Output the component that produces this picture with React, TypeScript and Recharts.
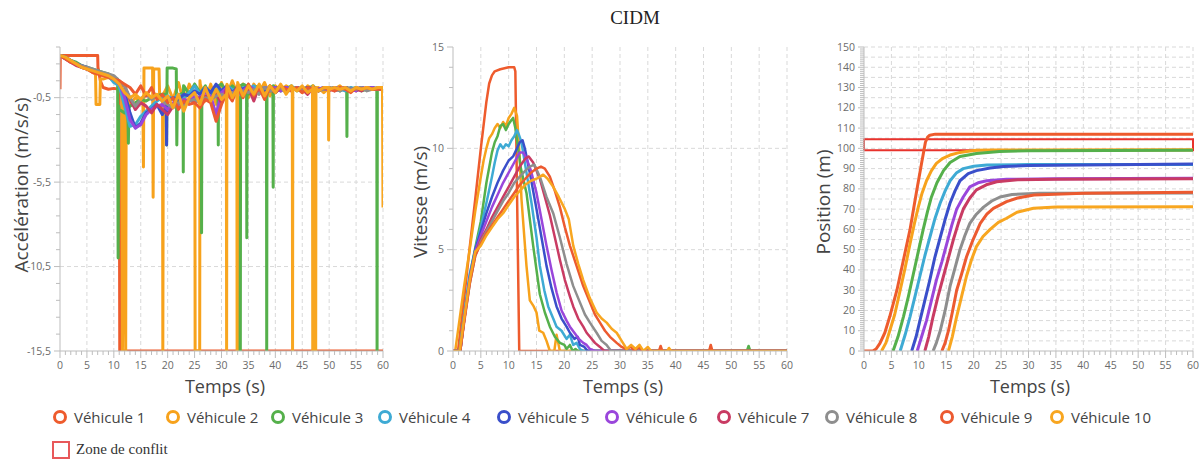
import { LineChart, Line, XAxis, YAxis, CartesianGrid, ReferenceArea } from "recharts";

type Pair = [number, number];

const vehicleNames = ["Véhicule 1", "Véhicule 2", "Véhicule 3", "Véhicule 4", "Véhicule 5", "Véhicule 6", "Véhicule 7", "Véhicule 8", "Véhicule 9", "Véhicule 10"];
const vehicleColors = ["#ee5b2d", "#f7a21c", "#55b04b", "#3eaad4", "#3a4fca", "#9a46db", "#c93b63", "#8e8e8e", "#ec5a30", "#f8a620"];

const timeTicks = Array.from({ length: 61 }, (_, i) => i);
const timeGrid = [5, 10, 15, 20, 25, 30, 35, 40, 45, 50, 55, 60];

// acceleration (m/s/s), one value per second from t=0 to t=60, plus the sharp spikes
const acc1: Pair[] = [[0, 0], [0.05, 2], [7, 2], [7.05, 1.3], [7.5, 0.5], [8, 0.1], [9, 0], [10, 0.05], [11, 0], [11.1, -15.5], [60, -15.5]];
const accBase2 = [
  2.0, 1.8, 1.6, 1.5, 1.4, 1.2, 1.0, -0.9, 0.6, 0.7,
  0.5, 0.2, -0.4, -0.9, -0.5, -0.7, 1.25, 1.25, 1.2, -0.4,
  0.2, -0.6, 0.4, -0.8, 0.3, -0.4, 0.5, -0.7, 0.3, -0.9,
  0.4, -0.4, 0.5, -0.3, 0.3, -0.5, 0.3, -0.2, 0.4, -0.4,
  0.2, -0.1, 0.2, 0.0, 0.1, -0.2, 0.2, 0.0, 0.1, -0.2,
  0.1, 0.0, 0.2, -0.1, 0.1, -0.1, 0.1, 0.0, 0.1, 0.0,
  0.1,
];
const accSpikes2: Pair[] = [[6.6, 0.9], [6.7, -0.9], [7.4, -0.9], [7.5, 0.6], [11.5, 0.2], [11.6, -15.5], [12.2, -15.5], [12.3, -0.4], [15.4, -0.6], [15.5, -4.6], [15.6, 1.25], [17.2, 1.25], [17.3, -6.4], [17.4, 1.2], [18.4, 1.2], [18.5, -0.3], [19.05, -0.4], [19.1, -15.5], [19.2, -0.3], [25.05, -0.2], [25.1, -15.5], [25.95, -15.5], [26.05, 0.3]];
const accBase3 = [
  2.0, 1.9, 1.7, 1.6, 1.4, 1.3, 1.2, 1.1, 1.0, 0.9,
  0.7, -1.2, -1.4, -1.0, -0.8, -0.6, -0.7, -0.5, -0.4, -0.3,
  1.25, 1.25, -0.4, 0.2, -0.3, 0.3, -0.2, 0.2, -0.4, 0.1,
  0.3, -0.2, 0.2, -0.1, 0.3, -0.3, 0.1, 0.2, -0.1, 0.2,
  -0.2, 0.1, 0.0, 0.2, -0.1, 0.1, 0.0, 0.2, -0.1, 0.1,
  0.0, 0.1, -0.1, 0.1, 0.0, 0.1, -0.1, 0.0, 0.1, 0.0,
  0.1,
];
const accSpikes3: Pair[] = [[10.7, 0.6], [10.8, -10], [10.9, -1.0], [12.6, -1.2], [12.7, -3.2], [12.8, -1.1], [19.7, -0.3], [19.8, -3.3], [19.9, 1.25], [21.6, 1.2], [21.7, -3.3], [21.8, -0.4], [22.85, -0.2], [22.9, -4.9], [22.95, 0.2], [26.25, -0.2], [26.3, -8.5], [26.35, -0.1], [29.35, -0.3], [29.4, -3.3], [29.45, 0.2], [33.25, -0.1], [33.3, -15.5], [33.5, -15.5], [33.55, 0.2], [34.65, 0.2], [34.7, -8.8], [34.75, -0.2], [38.35, -0.1], [38.4, -15.5], [38.45, -0.1], [39.55, -0.1], [39.6, -5.8], [39.65, 0.2], [53.25, 0.1], [53.3, -2.8], [53.35, 0.1], [58.85, 0.0], [58.9, -15.5], [58.95, 0.1]];
const accBase4 = [
  2.0, 1.8, 1.7, 1.5, 1.4, 1.2, 1.1, 1.0, 0.9, 0.8,
  0.4, 0.2, -1.0, -2.2, -2.1, -1.6, -1.3, -1.0, -0.7, -0.5,
  -0.4, -0.6, -0.3, -0.5, -0.2, 0.2, -0.3, 0.1, -0.2, 0.2,
  -0.1, 0.2, 0.0, -0.2, 0.1, 0.0, 0.2, -0.1, 0.1, 0.0,
  0.1, -0.1, 0.1, 0.0, 0.1, 0.0, -0.1, 0.1, 0.0, 0.1,
  0.0, 0.1, 0.0, -0.1, 0.1, 0.0, 0.1, 0.0, 0.0, 0.1,
  0.0,
];
const accSpikes4: Pair[] = [];
const accBase5 = [
  2.0, 1.9, 1.7, 1.5, 1.4, 1.3, 1.1, 1.0, 0.9, 0.8,
  0.6, 0.3, -0.2, -1.4, -2.3, -2.0, -1.4, -1.2, -0.9, -1.5,
  -0.7, -0.5, -0.6, -0.3, -0.4, -0.1, -0.3, 0.1, -0.2, 0.3,
  -0.1, 0.2, -0.2, 0.1, 0.0, 0.2, -0.1, 0.1, 0.0, -0.1,
  0.1, 0.0, 0.1, -0.1, 0.1, 0.0, 0.1, 0.0, -0.1, 0.1,
  0.0, 0.1, 0.0, 0.1, -0.1, 0.0, 0.1, 0.0, 0.1, 0.0,
  0.0,
];
const accSpikes5: Pair[] = [[19.75, -1.0], [19.8, -3.3], [19.85, -1.1]];
const accBase6 = [
  2.0, 1.8, 1.6, 1.5, 1.3, 1.2, 1.1, 1.0, 0.9, 0.8,
  0.6, 0.4, -0.5, -1.8, -2.3, -2.1, -1.5, -1.2, -1.0, -0.9,
  -1.2, -0.8, -0.9, -0.6, -0.7, -0.4, -0.5, -0.2, -0.4, -1.5,
  -0.2, 0.1, -0.3, 0.1, -0.1, 0.2, 0.0, -0.2, 0.1, 0.0,
  0.1, -0.1, 0.1, 0.0, 0.1, -0.1, 0.0, 0.1, 0.0, 0.1,
  -0.1, 0.1, 0.0, 0.1, 0.0, -0.1, 0.1, 0.0, 0.1, 0.0,
  0.0,
];
const accSpikes6: Pair[] = [];
const accBase7 = [
  2.0, 1.8, 1.6, 1.4, 1.3, 1.2, 1.1, 1.0, 0.9, 0.8,
  0.7, 0.5, 0.2, -0.6, -1.2, -0.8, -1.0, -1.4, -0.9, -1.2,
  -1.5, -1.0, -0.8, -0.9, -0.6, -0.8, -0.5, -0.4, -0.6, -0.3,
  -0.8, 0.1, -0.5, 0.2, -0.4, 0.1, -0.7, 0.2, -0.3, 0.0,
  -0.2, 0.1, 0.0, -0.1, 0.1, 0.0, -0.3, 0.1, 0.0, 0.0,
  0.1, -0.1, 0.0, 0.1, 0.0, 0.0, -0.1, 0.1, 0.0, 0.0,
  0.0,
];
const accSpikes7: Pair[] = [];
const accBase8 = [
  2.0, 1.9, 1.7, 1.5, 1.4, 1.3, 1.2, 1.1, 1.0, 0.9,
  0.8, 0.5, 0.2, -0.5, -1.0, -0.6, -0.3, -0.6, -0.4, -0.7,
  -0.9, -1.1, -0.8, -1.0, -0.7, -0.6, -0.8, -0.5, -0.6, -0.4,
  -0.3, -0.5, -0.2, -0.4, -0.1, -0.2, 0.0, -0.3, 0.1, -0.1,
  0.0, 0.1, -0.2, 0.0, 0.1, -0.1, 0.0, 0.1, -0.1, 0.0,
  0.1, 0.0, -0.1, 0.1, 0.0, 0.0, 0.1, -0.1, 0.0, 0.0,
  0.0,
];
const accSpikes8: Pair[] = [];
const accBase9 = [
  2.0, 1.8, 1.6, 1.5, 1.3, 1.2, 1.0, 0.9, 0.8, 0.7,
  0.6, 0.5, 0.3, 0.1, -0.3, 0.2, -0.4, 0.1, -0.6, -0.3,
  -0.8, -0.5, -1.2, -0.7, -0.9, -0.8, -1.1, -0.6, -0.8, -1.9,
  -0.9, -0.2, -0.7, 0.1, -0.5, 0.3, -0.4, 0.1, -0.6, 0.2,
  -0.1, 0.2, 0.0, -0.1, 0.1, -0.2, 0.1, 0.0, -0.1, 0.1,
  0.0, -0.1, 0.1, 0.0, -0.2, 0.1, 0.0, 0.1, 0.0, 0.0,
  0.0,
];
const accSpikes9: Pair[] = [];
const accBase10 = [
  2.0, 1.9, 1.7, 1.5, 1.3, 1.2, 1.1, 1.0, 0.9, 0.8,
  0.6, 0.3, -0.2, -0.5, -0.3, -0.6, -0.2, -0.5, -0.3, -0.7,
  -0.4, -1.1, -0.3, -1.3, -0.5, -0.2, -0.9, 0.1, -0.7, 0.0,
  -0.6, 0.3, -0.5, 0.4, -0.4, 0.2, -0.3, 0.3, -0.4, 0.2,
  -0.2, 0.3, -0.3, 0.2, -0.1, 0.2, -0.2, 0.2, -0.1, 0.1,
  0.0, 0.1, 0.0, 0.1, -0.1, 0.1, 0.0, 0.1, 0.0, 0.1,
  -7.0,
];
const accSpikes10: Pair[] = [[30.9, -0.3], [30.95, -15.5], [32.85, 0.0], [32.9, -15.5], [43.15, 0.1], [43.2, -15.5], [43.25, 0.1], [46.9, 0.0], [46.95, -15.5], [47.5, -15.5], [47.55, 0.1], [49.85, 0.1], [49.9, -3.0], [49.95, 0.1], [59.9, 0.1]];

// speed (m/s)
const vel1: Pair[] = [[0, 0], [0.9, 0], [2, 2.6], [3, 5.1], [4, 7.5], [5, 10.0], [6, 12.3], [6.5, 13.2], [7, 13.6], [7.5, 13.8], [8.5, 13.9], [10, 14.0], [11, 14.0], [11.2, 13.8], [11.9, 0], [60, 0]];
const vel2: Pair[] = [[0, 0], [0.4, 0], [1, 1.2], [2, 3.2], [3, 5.0], [4, 6.9], [5, 8.6], [5.5, 9.4], [6, 10.0], [6.5, 10.5], [7, 10.7], [7.5, 11.0], [8, 11.2], [8.5, 11.0], [9, 11.3], [9.5, 11.1], [10, 11.5], [10.5, 11.7], [11, 12.0], [11.5, 11.6], [12, 9.5], [12.3, 7.5], [13.2, 4.2], [13.8, 2.5], [14.5, 2.2], [15, 1.9], [15.5, 1.0], [16.2, 0.9], [16.8, 0.5], [17.4, 0], [18.2, 0], [18.6, 0.8], [19.2, 0], [60, 0]];
const vel3: Pair[] = [[0, 0], [1.2, 0], [2, 1.7], [3, 3.7], [4, 5.1], [5, 6.4], [6, 8.3], [7, 9.8], [7.5, 10.3], [8, 10.6], [8.5, 11.1], [9, 11.2], [9.5, 10.9], [10, 11.2], [10.5, 11.4], [10.8, 11.5], [11.2, 11.0], [11.6, 10.2], [12.2, 9.0], [13.2, 7.8], [14.4, 5.2], [15.6, 2.8], [16.5, 1.9], [17.4, 1.2], [18.3, 0.7], [19.2, 0.4], [20, 0.3], [20.4, 0.1], [21, 0.3], [21.5, 0], [22, 0.1], [22.4, 0], [52.8, 0], [53.1, 0.25], [53.4, 0], [60, 0]];
const vel4: Pair[] = [[0, 0], [1.2, 0], [2, 1.8], [3, 3.8], [4, 5.0], [5, 6.1], [6, 7.3], [7, 8.6], [7.5, 9.3], [8, 9.9], [8.5, 10.2], [9, 10.0], [9.5, 10.2], [10, 10.1], [10.5, 10.4], [11, 10.6], [11.5, 10.9], [11.8, 10.7], [12.3, 10.3], [13.2, 8.8], [14.1, 7.3], [15, 5.6], [15.6, 4.2], [16.4, 3.0], [17.1, 2.2], [18, 1.6], [18.6, 1.2], [19.5, 1.0], [20.4, 0.6], [21, 0.8], [21.6, 0.3], [22.2, 0.4], [22.8, 0.1], [23.4, 0], [60, 0]];
const vel5: Pair[] = [[0, 0], [1.3, 0], [2, 1.5], [3, 3.6], [4, 5.0], [5, 5.9], [6, 6.8], [7, 7.6], [8, 8.3], [9, 8.9], [10, 9.4], [10.8, 9.6], [11.5, 10.0], [12, 10.3], [12.5, 10.4], [12.9, 10.0], [13.8, 8.8], [15, 7.0], [15.9, 5.6], [16.8, 4.2], [17.7, 3.1], [18.6, 2.2], [19.5, 1.6], [20.4, 1.2], [21, 0.9], [21.8, 0.6], [22.4, 0.7], [22.8, 0.3], [23.6, 0.2], [24.2, 0], [60, 0]];
const vel6: Pair[] = [[0, 0], [1.3, 0], [2, 1.6], [3, 3.5], [4, 4.9], [5, 5.7], [6, 6.4], [7, 7.1], [8, 7.7], [9, 8.3], [10, 8.8], [11, 9.3], [12, 9.8], [12.6, 9.8], [13.2, 9.5], [14, 8.9], [15, 7.8], [15.9, 6.5], [16.8, 5.2], [17.7, 4.0], [18.6, 2.9], [19.5, 2.0], [20.4, 1.5], [21, 1.2], [21.8, 0.9], [22.6, 0.6], [23.4, 0.4], [24, 0.3], [24.6, 0.1], [25.5, 0], [60, 0]];
const vel7: Pair[] = [[0, 0], [1.3, 0], [2, 1.5], [3, 3.4], [4, 4.8], [5, 5.5], [6, 6.0], [7, 6.6], [8, 7.1], [9, 7.6], [10, 8.1], [11, 8.6], [12, 9.1], [13, 9.5], [13.6, 9.6], [14.4, 9.3], [15.6, 8.5], [16.5, 7.6], [17.4, 6.7], [18.3, 5.6], [19.2, 4.5], [20.1, 3.5], [21, 2.7], [21.6, 2.2], [22.5, 1.6], [23.4, 1.2], [24, 0.9], [24.6, 0.7], [25.5, 0.4], [26.4, 0.2], [27.2, 0], [60, 0]];
const vel8: Pair[] = [[0, 0], [1.3, 0], [2, 1.5], [3, 3.3], [4, 4.7], [5, 5.4], [6, 5.9], [7, 6.4], [8, 6.9], [9, 7.4], [10, 7.8], [11, 8.3], [12, 8.6], [13, 8.9], [13.8, 9.1], [14.6, 9.2], [15.6, 8.6], [16.8, 7.6], [18, 6.8], [19.2, 5.6], [20.4, 4.3], [21.6, 3.2], [22.8, 2.4], [23.7, 1.8], [24.6, 1.4], [25.8, 0.9], [26.7, 0.5], [27.6, 0.3], [28.4, 0], [60, 0]];
const vel9: Pair[] = [[0, 0], [1.3, 0], [2, 1.4], [3, 3.3], [4, 4.7], [5, 5.3], [6, 5.8], [7, 6.2], [8, 6.6], [9, 7.0], [10, 7.4], [11, 7.8], [12, 8.2], [13, 8.5], [14, 8.8], [15, 9.0], [15.8, 9.1], [16.5, 9.0], [17.4, 8.6], [18.3, 7.9], [19.2, 7.1], [20.1, 6.1], [21, 5.2], [22.2, 4.2], [23.4, 3.2], [24.6, 2.4], [25.5, 1.8], [26.4, 1.4], [27.3, 1.0], [28.2, 0.7], [29.4, 0.4], [30.3, 0.2], [31, 0.1], [32, 0.2], [32.6, 0], [33.4, 0.2], [34, 0], [37, 0], [37.3, 0.25], [37.6, 0], [46, 0], [46.3, 0.3], [46.6, 0], [60, 0]];
const vel10: Pair[] = [[0, 0], [1.2, 0], [2, 1.6], [3, 3.5], [4, 4.9], [5, 5.2], [6, 5.7], [7, 6.1], [8, 6.5], [9, 6.8], [10, 7.2], [11, 7.6], [12, 7.9], [13, 8.2], [14, 8.4], [15, 8.5], [16.2, 8.7], [17, 8.5], [18, 8.1], [19, 7.6], [20.1, 7.0], [20.8, 6.5], [21.6, 5.2], [22.5, 4.3], [23.4, 3.5], [24.6, 2.6], [25.8, 1.9], [26.7, 1.6], [27.6, 1.4], [28.5, 1.1], [29.4, 0.9], [30.3, 0.5], [31.2, 0.1], [32, 0.3], [32.8, 0.1], [33.5, 0.3], [34.2, 0], [35, 0.2], [35.6, 0], [38.5, 0], [38.8, 0.15], [39.2, 0], [60, 0]];

// position (m)
const pos1: Pair[] = [[0, 0], [1.6, 0], [2.2, 1], [2.9, 3.8], [3.8, 9], [4.7, 17], [6.0, 30], [7.2, 45], [8.4, 60], [9.6, 79], [10.5, 92.6], [11.2, 103], [11.6, 105.5], [12.0, 106.5], [13, 107], [60, 107]];
const pos2: Pair[] = [[3.2, 0], [4.0, 4], [4.7, 10], [5.6, 18], [6.6, 30], [7.5, 41], [8.4, 53], [9.2, 63], [9.9, 71], [10.6, 78], [11.4, 84], [12.3, 89], [13.2, 92.6], [14.4, 95.1], [15.7, 96.7], [17.5, 98], [18.7, 98.4], [20.5, 99], [23.6, 99.2], [60, 99.3]];
const pos3: Pair[] = [[5.3, 0], [6.2, 7], [7.2, 17], [8.1, 27], [9, 38], [9.9, 49], [10.8, 60], [11.6, 69], [12.3, 76], [13.3, 83], [14.5, 89], [15.7, 93], [16.9, 95], [17.5, 96], [20.5, 97.5], [24.7, 98.4], [30, 98.8], [60, 99]];
const pos4: Pair[] = [[6.6, 0], [7.5, 8], [8.4, 17], [9.3, 27], [10.2, 37], [11.1, 47], [12, 56], [12.9, 65], [13.9, 73], [14.8, 79], [15.7, 84], [16.9, 88], [18.1, 90], [20, 91.2], [22.4, 91.8], [30, 92], [60, 92]];
const pos5: Pair[] = [[8.7, 0], [9.5, 7], [10.2, 15], [11.1, 25], [12, 35], [12.9, 46], [13.9, 56], [14.8, 65], [15.7, 73], [16.6, 79], [17.5, 84], [19, 87.5], [20.5, 89], [23, 90.3], [25.5, 91], [30, 91.5], [40, 91.8], [50, 92], [60, 92.3]];
const pos6: Pair[] = [[9.7, 0], [10.5, 7], [11.4, 15], [12.3, 25], [13.2, 35], [14.2, 44], [15.1, 53], [16, 62], [16.9, 70], [18.1, 76], [19.3, 81], [20.8, 83], [22.4, 84], [26, 84.7], [35, 85], [60, 85.2]];
const pos7: Pair[] = [[11.1, 0], [11.8, 7], [12.6, 17], [13.5, 27], [14.5, 37], [15.4, 46], [16.3, 55], [17.2, 63], [18.1, 70], [19.3, 75.5], [20.5, 79.5], [22.3, 82], [24.2, 83.5], [28, 84.5], [35, 84.8], [60, 85]];
const pos8: Pair[] = [[12.6, 0], [13.2, 4], [13.9, 10], [14.8, 20], [15.7, 32], [16.6, 41], [17.5, 50], [18.4, 57], [19.3, 63], [20.5, 67.5], [21.8, 71], [23.3, 74], [24.8, 76], [27, 77.2], [32, 77.8], [60, 78]];
const pos9: Pair[] = [[14.2, 0], [14.8, 4], [15.4, 10], [16.1, 19], [16.9, 30], [17.8, 38], [18.7, 46.5], [19.9, 55], [21.2, 63], [22.4, 67.5], [23.6, 70.4], [26, 73.7], [28, 75.5], [31, 77], [40, 77.8], [60, 78.3]];
const pos10: Pair[] = [[15.4, 0], [16.1, 7], [16.9, 17], [17.8, 27], [18.7, 37], [19.6, 45], [20.5, 51.5], [21.7, 56.5], [23, 60], [24.5, 63.5], [26, 65.5], [27.9, 68.5], [30.9, 70.4], [35, 71], [60, 71.2]];

const conflictZone = { from: 99, to: 104.5 };

const accTicks = Array.from({ length: 19 }, (_, i) => -15.5 + i);
const accMajor = [-15.5, -10.5, -5.5, -0.5];
const velTicks = Array.from({ length: 16 }, (_, i) => i);
const velMajor = [0, 5, 10, 15];
const posTicks = Array.from({ length: 151 }, (_, i) => i);
const posMajor = [0, 10, 20, 30, 40, 50, 60, 70, 80, 90, 100, 110, 120, 130, 140, 150];
const posGrid = Array.from({ length: 30 }, (_, i) => 5 + i * 5);

const toPoints = (list: Pair[]) => list.map(([t, v]) => ({ t, v }));
const mergeAcc = (base: number[], spikes: Pair[]) =>
  base.map((v, i) => ({ t: i, v })).concat(toPoints(spikes)).sort((p, q) => p.t - q.t);

const accSeries = [
  toPoints(acc1),
  mergeAcc(accBase2, accSpikes2),
  mergeAcc(accBase3, accSpikes3),
  mergeAcc(accBase4, accSpikes4),
  mergeAcc(accBase5, accSpikes5),
  mergeAcc(accBase6, accSpikes6),
  mergeAcc(accBase7, accSpikes7),
  mergeAcc(accBase8, accSpikes8),
  mergeAcc(accBase9, accSpikes9),
  mergeAcc(accBase10, accSpikes10),
];
const velSeries = [vel1, vel2, vel3, vel4, vel5, vel6, vel7, vel8, vel9, vel10].map(toPoints);
const posSeries = [pos1, pos2, pos3, pos4, pos5, pos6, pos7, pos8, pos9, pos10].map(toPoints);

const TICK_COLOR = "#6b6b6b";
const AXIS_COLOR = "#bdbdbd";
const GRID_COLOR = "#d9d9d9";

const XTick = (props: any) => {
  const { x, y, payload } = props;
  const major = payload.value % 5 === 0;
  return (
    <g>
      <line x1={x} y1={y} x2={x} y2={y + (major ? 7 : 4)} stroke={AXIS_COLOR} />
      {major ? (
        <text x={x} y={y + 18} textAnchor="middle" fill={TICK_COLOR} fontSize={10.5}>
          {payload.value}
        </text>
      ) : null}
    </g>
  );
};

const makeYTick = (majors: number[]) => (props: any) => {
  const { x, y, payload } = props;
  const major = majors.includes(payload.value);
  return (
    <g>
      <line x1={x - (major ? 6 : 4)} y1={y} x2={x} y2={y} stroke={AXIS_COLOR} />
      {major ? (
        <text x={x - 9} y={y} dy={3.5} textAnchor="end" fill={TICK_COLOR} fontSize={10.5}>
          {String(payload.value).replace(".", ",")}
        </text>
      ) : null}
    </g>
  );
};

const Y_AXIS_W = 40;
const X_AXIS_H = 30;

function Panel(props: {
  left: number;
  width: number;
  plotLeft: number;
  plotRight: number;
  series: { t: number; v: number }[][];
  yDomain: [number, number];
  yTicks: number[];
  yMajor: number[];
  yGrid: number[];
  strokeWidth: number;
  children?: any;
}) {
  const { left, width, plotLeft, plotRight, series, yDomain, yTicks, yMajor, yGrid, strokeWidth, children } = props;
  const margin = { top: 47, right: width - plotRight, bottom: 49 - X_AXIS_H, left: plotLeft - Y_AXIS_W };
  return (
    <div style={{ position: "absolute", left, top: 0 }}>
      <LineChart width={width} height={400} margin={margin}>
        <CartesianGrid stroke={GRID_COLOR} strokeDasharray="4 3" horizontalValues={yGrid} verticalValues={timeGrid} />
        <XAxis
          type="number"
          dataKey="t"
          domain={[0, 60]}
          ticks={timeTicks}
          interval={0}
          height={X_AXIS_H}
          tickSize={0}
          tickMargin={0}
          tick={XTick}
          stroke={AXIS_COLOR}
          allowDataOverflow
        />
        <YAxis
          type="number"
          domain={yDomain}
          ticks={yTicks}
          interval={0}
          width={Y_AXIS_W}
          tickSize={0}
          tickMargin={0}
          tick={makeYTick(yMajor)}
          stroke={AXIS_COLOR}
          allowDataOverflow
        />
        {series.map((data, i) => (
          <Line
            key={vehicleNames[i]}
            data={data}
            dataKey="v"
            name={vehicleNames[i]}
            type="linear"
            stroke={vehicleColors[i]}
            strokeWidth={strokeWidth}
            strokeLinejoin="round"
            dot={false}
            isAnimationActive={false}
          />
        ))}
        {children}
      </LineChart>
    </div>
  );
}

const axisTitle: any = { position: "absolute", fontSize: 18, color: "#444", whiteSpace: "nowrap", transform: "translate(-50%, -50%)" };
const yTitle: any = { ...axisTitle, fontSize: 19, transform: "translate(-50%, -50%) rotate(-90deg)" };

const legendX = [60, 173, 278, 385, 504, 612, 724, 832, 947, 1057];

export default function App() {
  return (
    <div
      style={{
        position: "absolute",
        left: 0,
        top: 0,
        width: 1204,
        height: 461,
        background: "#fff",
        fontFamily: "'Open Sans', 'Noto Sans', sans-serif",
        overflow: "hidden",
      }}
    >
      <div style={{ position: "absolute", left: 635, top: 18, transform: "translate(-50%, -50%)", fontFamily: "'Liberation Serif', serif", fontSize: 19, color: "#222" }}>
        CIDM
      </div>

      <Panel left={0} width={400} plotLeft={60} plotRight={383} series={accSeries} yDomain={[-15.5, 2.5]} yTicks={accTicks} yMajor={accMajor} yGrid={[-10.5, -5.5, -0.5]} strokeWidth={3} />
      <Panel left={400} width={400} plotLeft={53} plotRight={387} series={velSeries} yDomain={[0, 15]} yTicks={velTicks} yMajor={velMajor} yGrid={[5, 10]} strokeWidth={2.5} />
      <Panel left={800} width={404} plotLeft={64} plotRight={393} series={posSeries} yDomain={[0, 150]} yTicks={posTicks} yMajor={posMajor} yGrid={posGrid} strokeWidth={3}>
        <ReferenceArea x1={0} x2={60} y1={conflictZone.from} y2={conflictZone.to} fill="none" stroke="#e8322c" strokeWidth={2} ifOverflow="visible" />
      </Panel>

      <div style={{ ...yTitle, left: 21, top: 185 }}>Accélération (m/s/s)</div>
      <div style={{ ...yTitle, left: 420, top: 202 }}>Vitesse (m/s)</div>
      <div style={{ ...yTitle, left: 823, top: 202 }}>Position (m)</div>
      <div style={{ ...axisTitle, left: 225, top: 386 }}>Temps (s)</div>
      <div style={{ ...axisTitle, left: 623, top: 386 }}>Temps (s)</div>
      <div style={{ ...axisTitle, left: 1030, top: 386 }}>Temps (s)</div>

      {vehicleNames.map((name, i) => (
        <div key={name} style={{ position: "absolute", left: legendX[i] - 7, top: 417, transform: "translateY(-50%)", display: "flex", alignItems: "center", whiteSpace: "nowrap" }}>
          <span style={{ width: 8, height: 8, borderRadius: "50%", border: `3px solid ${vehicleColors[i]}`, display: "inline-block" }} />
          <span style={{ marginLeft: 7, fontSize: 15, color: "#444" }}>{name}</span>
        </div>
      ))}
      <div style={{ position: "absolute", left: 52, top: 441, width: 14, height: 14, border: "2px solid #e8585a" }} />
      <div style={{ position: "absolute", left: 76, top: 449, transform: "translateY(-50%)", fontFamily: "'Liberation Serif', serif", fontSize: 15, color: "#333" }}>
        Zone de conflit
      </div>
    </div>
  );
}
